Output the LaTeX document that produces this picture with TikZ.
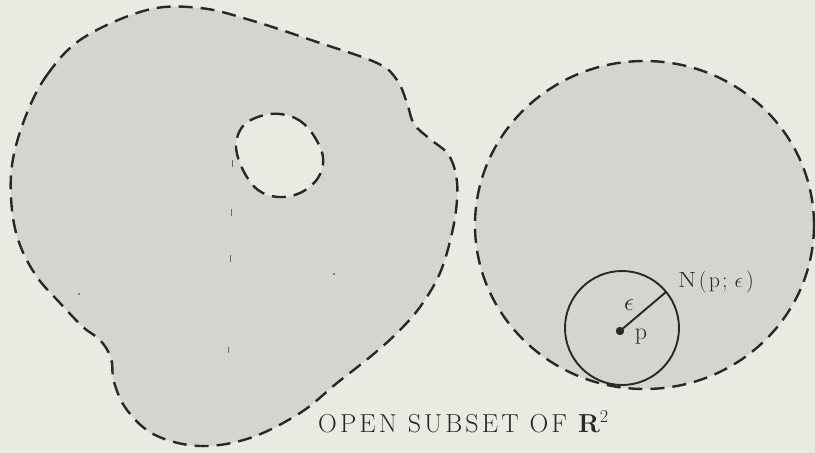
\documentclass[tikz,border=0pt]{standalone}
\usepackage{fontspec}
\usetikzlibrary{calc}
\definecolor{paper}{RGB}{233,234,226}
\definecolor{setgray}{RGB}{212,213,207}
\definecolor{ink}{RGB}{40,40,40}
\newcommand\lsp{\kern3.1pt}
\tikzset{
  boundary/.style={draw=ink, line width=2.4pt, dash pattern=on 14pt off 8pt},
  nbhd/.style={draw=ink, line width=1.9pt},
  speck/.style={draw=ink!70, line width=1pt},
  lbl/.style={inner sep=0pt, text=ink}
}
\begin{document}
\begin{tikzpicture}[x=1pt,y=-1pt]
\useasboundingbox (0,0) rectangle (815,453);
\fill[paper] (0,0) rectangle (815,453);
% big blob
\path[fill=setgray, boundary] plot[smooth cycle, tension=0.6] coordinates {
 (25,118) (47,75) (83,38) (147,10) (200,8) (250,20) (317,42) (377,63)
 (397,80) (407,103) (414,124) (430,139) (448,154) (456,175) (457,200)
 (452,233) (440,273) (420,307) (397,333) (370,357) (337,383) (300,413)
 (250,438) (200,446) (155,435) (127,410) (114,382) (111,358) (100,340)
 (83,327) (60,303) (37,277) (20,245) (12,210) (12,165)};
% hole
\path[fill=paper, boundary] plot[smooth cycle, tension=0.6] coordinates {
 (270,114) (295,118) (312,133) (323,157) (318,178) (300,193) (278,197)
 (258,190) (243,170) (236,145) (245,124)};
% specks
\draw[speck] (232,160) -- (232,167);
\draw[speck] (231,209) -- (231,216);
\draw[speck] (230,255) -- (230,262);
\draw[speck] (228,347) -- (228,353);
\fill[ink!70] (79,294) circle (1.2);
\fill[ink!70] (334,274) circle (1.2);
\draw[speck] (582,220) -- (582,224);
\draw[speck] (617,226) -- (617,230);
% right disc
\path[fill=setgray, boundary] (644.5,225) ellipse [x radius=169.5, y radius=164];
% neighbourhood
\node[circle, minimum size=114pt, inner sep=0pt, nbhd] (N) at (622,328) {};
\coordinate (p) at (620,331);
\coordinate (q) at (666,292);
\fill[ink] (p) circle (4.2);
\draw[nbhd] (p) -- (q);
\node[lbl, font=\fontsize{25}{25}\selectfont] (eps) at (629,305) {$\epsilon$};
\node[lbl, font=\fontsize{24}{24}\selectfont, anchor=base] (plab) at (641,339) {p};
\node[lbl, font=\fontsize{22}{22}\selectfont, anchor=base west] (Nlab) at (678,287)
  {\scalebox{1.2}[1]{N}\kern2.5pt(\kern2pt p\kern2pt;\kern7pt$\epsilon$\kern3.5pt)};
% caption
\node[lbl, font=\fontsize{26}{26}\selectfont, anchor=base west] (cap) at (318,432)
  {O\lsp P\lsp E\lsp N\lsp\ S\lsp U\lsp B\lsp S\lsp E\lsp T\lsp\ O\lsp F\lsp\ \textbf{R}\textsuperscript{2}};
\end{tikzpicture}
\end{document}
